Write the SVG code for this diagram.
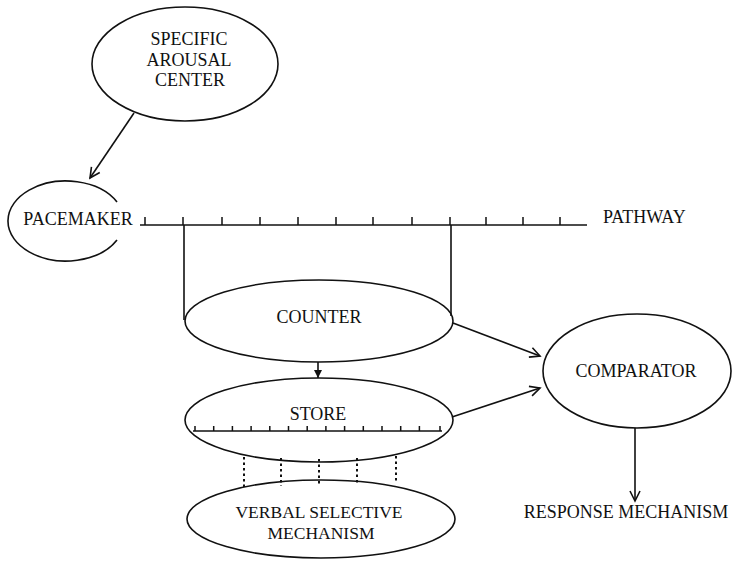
<svg xmlns="http://www.w3.org/2000/svg" width="735" height="561" viewBox="0 0 735 561">
<style>
.n{fill:none;stroke:#111;stroke-width:1.6}
.t{font-family:"Liberation Serif","Times New Roman",serif;font-size:18px;fill:#111;text-anchor:middle}
.s{font-size:17.5px}
.l{fill:none;stroke:#111;stroke-width:1.6}
.tk{fill:none;stroke:#111;stroke-width:1.5}
.dot{fill:none;stroke:#111;stroke-width:2;stroke-dasharray:2.5 3}
</style>
<defs>
<marker id="v" markerUnits="userSpaceOnUse" markerWidth="14" markerHeight="14" refX="11" refY="6" orient="auto" viewBox="0 0 14 12">
<path d="M1,1 L11,6 L1,11" fill="none" stroke="#111" stroke-width="1.6"/>
</marker>
<marker id="f" markerUnits="userSpaceOnUse" markerWidth="10" markerHeight="10" refX="8" refY="4" orient="auto" viewBox="0 0 10 8">
<path d="M0,0 L8,4 L0,8 Z" fill="#111"/>
</marker>
</defs>
<rect width="735" height="561" fill="#fff"/>
<g id="specific-arousal-center">
<ellipse class="n" cx="185" cy="64" rx="93" ry="57"/>
<text class="t" x="189" y="45">SPECIFIC</text>
<text class="t" x="189" y="66">AROUSAL</text>
<text class="t" x="190" y="86">CENTER</text>
</g>
<g id="pacemaker">
<path class="n" d="M117,202 A58,40 0 1 0 117,240"/>
<text class="t" x="78" y="225">PACEMAKER</text>
</g>
<g id="pathway">
<line class="l" x1="140" y1="225" x2="587" y2="225"/>
<path class="tk" d="M145,217V225M183,217V225M222,217V225M260,217V225M298,217V225M336,217V225M373,217V225M412,217V225M450,217V225M486,217V225M523,217V225M560,217V225"/>
<text class="t" x="603" y="223" style="text-anchor:start">PATHWAY</text>
</g>
<g id="counter">
<ellipse class="n" cx="319" cy="321" rx="134" ry="41"/>
<text class="t" x="319" y="323">COUNTER</text>
</g>
<g id="store">
<ellipse class="n" cx="319" cy="420" rx="134" ry="42"/>
<text class="t" x="318" y="420">STORE</text>
<line class="l" x1="193" y1="431" x2="442" y2="431"/>
<path class="tk" d="M195,426V431M213.7,426V431M232.4,426V431M251.1,426V431M269.8,426V431M288.5,426V431M307.2,426V431M325.9,426V431M344.6,426V431M363.3,426V431M382,426V431M400.7,426V431M419.4,426V431M440,426V431"/>
</g>
<g id="verbal-selective-mechanism">
<ellipse class="n" cx="321" cy="519" rx="134" ry="39"/>
<text class="t s" x="319" y="518">VERBAL SELECTIVE</text>
<text class="t s" x="321" y="539">MECHANISM</text>
</g>
<g id="comparator">
<ellipse class="n" cx="637" cy="371" rx="94" ry="57"/>
<text class="t" x="636" y="377">COMPARATOR</text>
</g>
<g id="response-mechanism">
<text class="t" x="626" y="518">RESPONSE MECHANISM</text>
</g>
<g id="connectors">
<line class="l" x1="134" y1="113" x2="90" y2="178" marker-end="url(#v)"/>
<line class="l" x1="184" y1="225" x2="184" y2="320"/>
<line class="l" x1="451" y1="225" x2="451" y2="316"/>
<line class="l" x1="318" y1="362" x2="318" y2="378" marker-end="url(#f)"/>
<line class="l" x1="453" y1="323" x2="540" y2="356" marker-end="url(#v)"/>
<line class="l" x1="452" y1="417" x2="540" y2="388" marker-end="url(#v)"/>
<line class="l" x1="635" y1="428" x2="635" y2="501" marker-end="url(#v)"/>
<path class="dot" d="M244,457V487M281,458V486M319,459V484M357,458V483M396,456V481"/>
</g>
</svg>
